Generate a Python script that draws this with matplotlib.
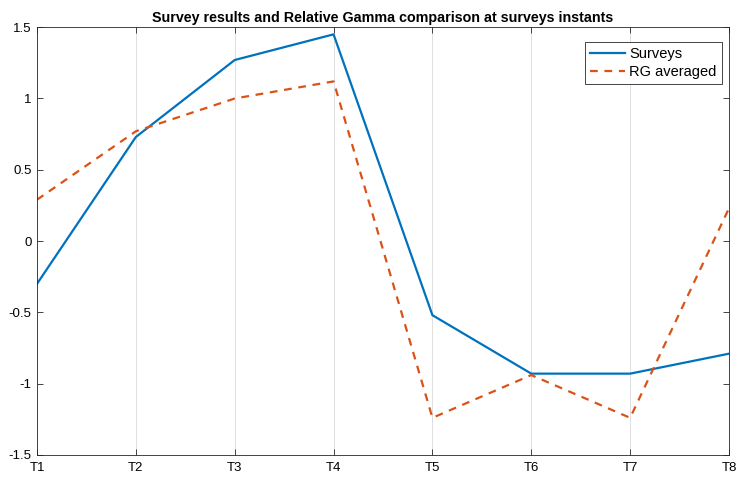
import numpy as np
import matplotlib
matplotlib.use("Agg")
import matplotlib.pyplot as plt

plt.rcParams['font.family'] = ['Liberation Sans', 'DejaVu Sans']

instants = ["T1", "T2", "T3", "T4", "T5", "T6", "T7", "T8"]
surveys = [-0.30, 0.73, 1.27, 1.45, -0.52, -0.93, -0.93, -0.79]
rg_averaged = [0.29, 0.77, 1.00, 1.12, -1.24, -0.94, -1.24, 0.23]

x = np.arange(1, len(instants) + 1)

fig = plt.figure(figsize=(7.46, 4.86), dpi=100)
ax = fig.add_axes([0.0496, 0.064, 0.9276, 0.880])

ax.plot(x, surveys, color='#0072BD', linewidth=1.6, label='Surveys')
ax.plot(x, rg_averaged, color='#D95319', linewidth=1.6, linestyle=(0, (3.5, 3)), label='RG averaged')

ax.set_xlim(1, 8)
ax.set_ylim(-1.5, 1.5)
ax.set_xticks(x)
ax.set_xticklabels(instants)
ax.set_yticks([-1.5, -1, -0.5, 0, 0.5, 1, 1.5])
ax.set_yticklabels(['-1.5', '-1', '-0.5', '0', '0.5', '1', '1.5'])
ax.grid(axis='x', color='#DFDFDF', linewidth=0.7)
ax.set_axisbelow(True)
ax.tick_params(direction='in', top=True, right=True, labelsize=9.5, length=4, width=0.6, color='#262626')
ax.tick_params(axis='x', pad=5)
ax.tick_params(axis='y', pad=4)
for s in ax.spines.values():
    s.set_linewidth(0.6)
    s.set_color('#262626')

ax.set_title('Survey results and Relative Gamma comparison at surveys instants',
             fontsize=10.3, fontweight='bold', pad=4)

leg = ax.legend(loc='upper right', bbox_to_anchor=(1.0, 0.982), fontsize=10.5, fancybox=False,
                framealpha=1, edgecolor='#262626', handlelength=2.4, borderpad=0.35,
                labelspacing=0.25, handletextpad=0.3)
leg.get_frame().set_linewidth(0.6)

fig.savefig('out.png', dpi=100)
